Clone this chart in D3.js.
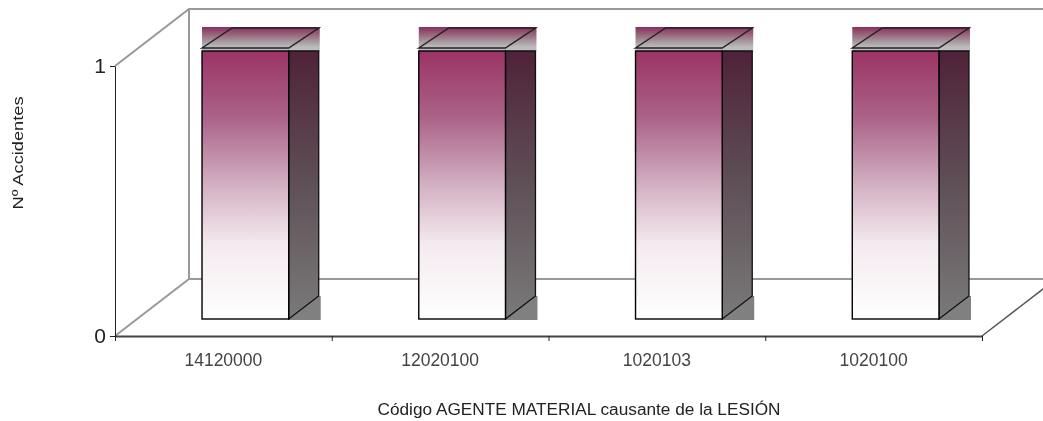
<!DOCTYPE html>
<html>
<head>
<meta charset="utf-8">
<script src="https://cdn.jsdelivr.net/npm/d3@7"></script>
<style>
  html, body { margin: 0; padding: 0; background: #fff; overflow: hidden; }
  text { font-family: "Liberation Sans", Arial, sans-serif; }
  svg { filter: blur(0.4px); }
</style>
</head>
<body>
<div id="chart"></div>
<script>
const categories = ["14120000", "12020100", "1020103", "1020100"];
const accidents = [1, 1, 1, 1];
const yTicks = [0, 1];

const width = 1043, height = 421;
const left = 115, right = 982, top0 = 66, bottom = 336;
// how far the back wall sits behind the axes, and the bars inside that depth
const wallDx = 74, wallDy = -57;
const barDx = 22, depthDx = 30, depthDy = -23;

const svg = d3.select("#chart").append("svg")
  .attr("width", width)
  .attr("height", height)
  .style("display", "block");

const x = d3.scaleBand()
  .domain(categories)
  .range([left, right])
  .paddingInner(0.6)
  .paddingOuter(0.3);

const y = d3.scaleLinear()
  .domain([0, 1])
  .range([bottom, top0]);

// bars stand a little behind the axis plane, so they get their own range
const yBar = d3.scaleLinear()
  .domain([0, 1])
  .range([319, 51]);

const defs = svg.append("defs");

function addGradient(id, stops) {
  const g = defs.append("linearGradient")
    .attr("id", id)
    .attr("x1", 0).attr("y1", 0)
    .attr("x2", 0).attr("y2", 1);
  stops.forEach(s => g.append("stop").attr("offset", s[0]).attr("stop-color", s[1]));
}

addGradient("front", [[0, "#9b3465"], [0.25, "#ab6388"], [0.5, "#d3b0c2"], [0.72, "#f3eaef"], [1, "#ffffff"]]);
addGradient("side", [[0, "#4f2239"], [0.5, "#5f5057"], [1, "#7a7a7a"]]);
addGradient("topBand", [[0, "#8a2d5a"], [0.5, "#a08a94"], [0.8, "#bdbbbc"], [1, "#bdbdbd"]]);

// walls and floor
const wallColor = "#999";
const wallTop = y(1) + wallDy, wallBottom = y(0) + wallDy, wallLeft = left + wallDx;
const wall = svg.append("g")
  .attr("fill", "none")
  .attr("stroke", wallColor)
  .attr("stroke-width", 2);
wall.append("path").attr("d", d3.line()([[left, y(1)], [wallLeft, wallTop], [width, wallTop]]));
wall.append("path").attr("d", d3.line()([[left, y(0)], [wallLeft, wallBottom], [width, wallBottom]]));
wall.append("path").attr("d", d3.line()([[wallLeft, wallTop], [wallLeft, wallBottom]]));
svg.append("path")
  .attr("d", d3.line()([[right, y(0)], [right + wallDx, y(0) + wallDy]]))
  .attr("stroke", "#555")
  .attr("stroke-width", 1.5);

// bars
const bars = svg.selectAll(".bar")
  .data(categories.map((c, i) => ({ c: c, v: accidents[i] })))
  .enter().append("g")
  .attr("class", "bar")
  .attr("transform", d => `translate(${x(d.c) + barDx},0)`);

const bw = x.bandwidth();

bars.append("rect")
  .attr("x", 0)
  .attr("y", d => yBar(d.v) + depthDy - 1)
  .attr("width", bw + depthDx + 1)
  .attr("height", -depthDy + 2)
  .attr("fill", "url(#topBand)");

bars.append("rect")
  .attr("x", bw)
  .attr("y", yBar(0) + depthDy)
  .attr("width", depthDx + 2)
  .attr("height", -depthDy + 1)
  .attr("fill", "#808080");

bars.append("path")
  .attr("d", d => d3.line()([[bw, yBar(d.v)], [bw + depthDx, yBar(d.v)], [bw + depthDx, yBar(0) + depthDy], [bw, yBar(0)]]) + "Z")
  .attr("fill", "url(#side)")
  .attr("stroke", "#111")
  .attr("stroke-width", 1.3);

// lid floats just above the front face
bars.append("path")
  .attr("d", d => {
    const t = yBar(d.v) - 3;
    return d3.line()([[0, t], [depthDx, t - 20], [bw + depthDx, t - 20], [bw, t]]) + "Z";
  })
  .attr("fill", "none")
  .attr("stroke", "#222")
  .attr("stroke-width", 1.5);

bars.append("rect")
  .attr("x", 0)
  .attr("y", d => yBar(d.v))
  .attr("width", bw)
  .attr("height", d => yBar(0) - yBar(d.v))
  .attr("fill", "url(#front)")
  .attr("stroke", "#000")
  .attr("stroke-width", 1.4);

// axes
const yAxis = svg.append("g")
  .attr("transform", `translate(${left},0)`)
  .call(d3.axisLeft(y).tickValues(yTicks).tickFormat(d3.format("d")).tickSize(5).tickSizeOuter(0).tickPadding(4));
yAxis.selectAll("path,line").attr("stroke", "#222");
yAxis.selectAll("text").style("font-size", "21px").attr("fill", "#222");

const edges = d3.scaleLinear().domain([0, categories.length]).range([left, right]);
const xEdges = svg.append("g")
  .attr("transform", `translate(0,${bottom})`)
  .call(d3.axisBottom(edges).tickValues(d3.range(categories.length + 1)).tickFormat("").tickSize(5).tickSizeOuter(0));
xEdges.select("path").attr("stroke", "#444").attr("stroke-width", 2);
xEdges.selectAll("line").attr("stroke", "#222");

const xAxis = svg.append("g")
  .attr("transform", `translate(0,${bottom})`)
  .call(d3.axisBottom(x).tickSize(0).tickPadding(18));
xAxis.select("path").remove();
xAxis.selectAll("text").style("font-size", "17.5px").attr("fill", "#444");

svg.append("text")
  .attr("x", 579)
  .attr("y", 415)
  .attr("text-anchor", "middle")
  .attr("fill", "#222")
  .attr("textLength", 403)
  .attr("lengthAdjust", "spacingAndGlyphs")
  .style("font-size", "16px")
  .text("Código AGENTE MATERIAL causante de la LESIÓN");

svg.append("text")
  .attr("transform", "translate(23,153) rotate(-90)")
  .attr("text-anchor", "middle")
  .attr("fill", "#222")
  .attr("textLength", 113)
  .attr("lengthAdjust", "spacingAndGlyphs")
  .style("font-size", "15px")
  .text("Nº Accidentes");
</script>
</body>
</html>
